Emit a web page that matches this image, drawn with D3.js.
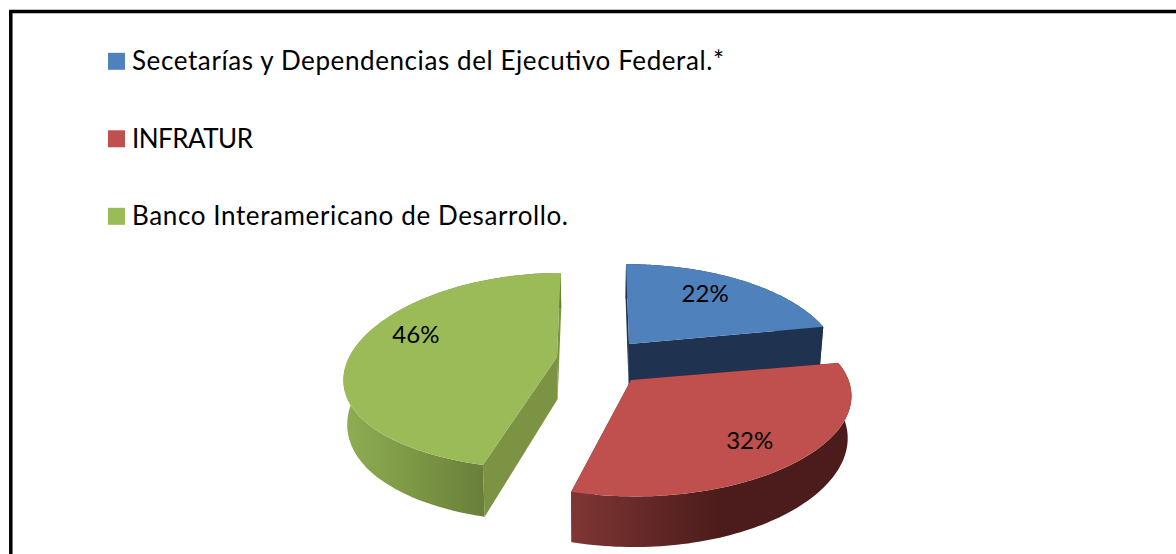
<!DOCTYPE html>
<html>
<head>
<meta charset="utf-8">
<script src="https://cdn.jsdelivr.net/npm/d3@7"></script>
<style>
  html, body { margin: 0; padding: 0; background: #fff; overflow: hidden; }
  text { font-family: Lato, "Open Sans", sans-serif; fill: #000; }
</style>
</head>
<body>
<div id="chart"></div>
<script>
const categories = ['Secetarías y Dependencias del Ejecutivo Federal.*', 'INFRATUR', 'Banco Interamericano de Desarrollo.']
const shares = [22, 32, 46]
const labels = ['22%', '32%', '46%']
const topColors = ['#4f81bd', '#c0504d', '#9bbb59']

const width = 1176, height = 554

// each slice was pulled apart and seen through a perspective, so it gets its own camera
// hub is how far the tip of the slice sits below the centre of its disc
const cameras = [
  {ax: 629, ay: 344, R: 205.5, Ry: 95, k: 0.19, kx: 0.19, lean: -3.6, depth: 41, hub: 0, nudge: [0, -7]},
  {ax: 631, ay: 380, R: 217.5, Ry: 94.3, k: 0.19, kx: 0.15, lean: -3, depth: 41, hub: 0, nudge: [13, 11]},
  {ax: 557, ay: 352, R: 205, Ry: 94.5, k: 0.196, kx: 0.26, lean: 4.6, depth: 42, hub: 5, nudge: [-12, -10]}
]
const vanishX = 600, squeeze = 0.015

// the legend font is narrower than the original, so the lines are stretched to its widths
const legendWidths = [592, 121, 436]

const svg = d3.select('#chart').append('svg')
  .attr('width', width)
  .attr('height', height)

const defs = svg.append('defs')

function wallGradient(id, x1, x2, from, to) {
  let g = defs.append('linearGradient')
    .attr('id', id)
    .attr('gradientUnits', 'userSpaceOnUse')
    .attr('x1', x1).attr('x2', x2)
    .attr('y1', 0).attr('y2', 0)
  g.append('stop').attr('offset', 0).attr('stop-color', from)
  g.append('stop').attr('offset', 1).attr('stop-color', to)
}
wallGradient('wall0', 620, 830, '#1f3350', '#1f3350')
wallGradient('wall1', 571, 720, '#7f3634', '#4b1c1b')
wallGradient('wall2', 350, 486, '#8dac51', '#697f39')

// frame, open to the right and the bottom of the picture
svg.append('path')
  .attr('d', `M10.8,${height} V11.5 H${width}`)
  .attr('fill', 'none')
  .attr('stroke', '#000')
  .attr('stroke-width', 3.5)

// legend
const legendY = d3.scalePoint().domain(categories).range([61.5, 216.5])

const legend = svg.selectAll('.legend')
  .data(categories)
  .enter()
  .append('g')
  .attr('class', 'legend')
  .attr('transform', d => `translate(0,${legendY(d)})`)

legend.append('rect')
  .attr('x', 108)
  .attr('y', -8.7)
  .attr('width', 17)
  .attr('height', 17)
  .attr('fill', (d, i) => topColors[i])

legend.append('text')
  .attr('x', 132)
  .attr('y', 8.8)
  .attr('font-size', 26)
  .attr('textLength', (d, i) => legendWidths[i])
  .attr('lengthAdjust', 'spacing')
  .text(d => d)

// pie
const arcs = d3.pie().sort(null)(shares)

// angle on the disc -> screen point, f is the fraction of the radius, drop the height of the wall
function project(cam, angle, f, drop) {
  const X = Math.sin(angle) * f, Y = Math.cos(angle) * f
  const s = 1 / (1 + cam.k * Y)
  const sx = 1 / (1 + cam.kx * Y)
  let x = cam.ax + (cam.R * X + cam.lean * Y) * sx
  let y = cam.ay - cam.Ry * Y * s
  if (drop) {
    x = vanishX + (x - vanishX) * (1 - squeeze)
    y += cam.depth * s
  }
  return [x, y]
}

function tip(cam, drop) {
  const p = project(cam, 0, 0, drop)
  return [p[0], p[1] + cam.hub]
}

function arcPoints(cam, d, drop) {
  const n = 90
  return d3.range(n + 1).map(i => {
    const a = d.startAngle + (d.endAngle - d.startAngle) * i / n
    return project(cam, a, 1, drop)
  })
}

const line = d3.line()

function topFace(cam, d) {
  return line([tip(cam, false), ...arcPoints(cam, d, false)]) + 'Z'
}
function outerWall(cam, d) {
  return line([...arcPoints(cam, d, false), ...arcPoints(cam, d, true).reverse()]) + 'Z'
}
function radialWall(cam, angle) {
  return line([
    tip(cam, false), project(cam, angle, 1, false),
    project(cam, angle, 1, true), tip(cam, true)
  ]) + 'Z'
}

const radialColors = ['#1f3350', '#4b1c1b', '#7b9343']

// blue sits behind red, so it is drawn first
;[0, 2, 1].forEach(i => {
  const cam = cameras[i], d = arcs[i]
  const g = svg.append('g')
  g.append('path').attr('d', radialWall(cam, d.startAngle)).attr('fill', radialColors[i])
  g.append('path').attr('d', radialWall(cam, d.endAngle)).attr('fill', radialColors[i])
  g.append('path').attr('d', outerWall(cam, d)).attr('fill', `url(#wall${i})`)
  g.append('path').attr('d', topFace(cam, d)).attr('fill', topColors[i])
})

arcs.forEach((d, i) => {
  const cam = cameras[i]
  const p = project(cam, (d.startAngle + d.endAngle) / 2, 0.65, false)
  svg.append('text')
    .attr('x', p[0] + cam.nudge[0])
    .attr('y', p[1] + cam.nudge[1])
    .attr('dy', '0.35em')
    .attr('text-anchor', 'middle')
    .attr('font-size', 24)
    .text(labels[i])
})
</script>
</body>
</html>
